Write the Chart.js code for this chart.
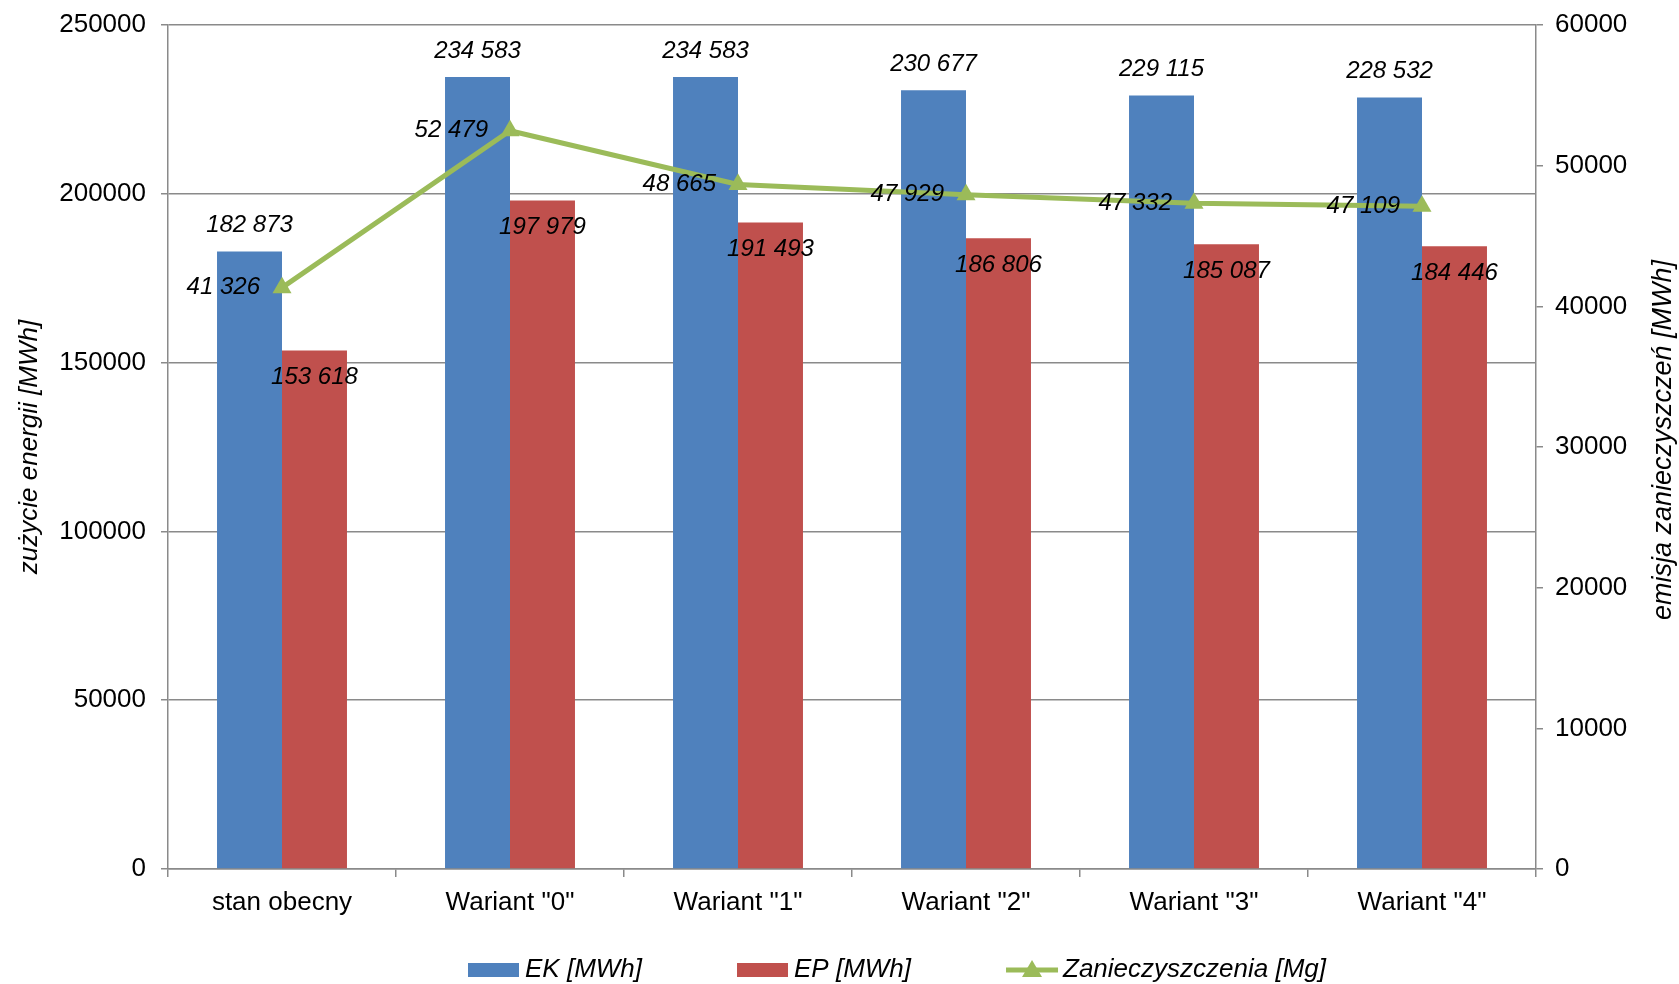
<!DOCTYPE html>
<html>
<head>
<meta charset="utf-8">
<script src="https://cdn.jsdelivr.net/npm/chart.js@4/dist/chart.umd.min.js"></script>
<style>
  html, body { margin: 0; padding: 0; background: #fff; }
</style>
</head>
<body>
<canvas id="energyChart" width="1679" height="984"></canvas>
<script>
// Data for the chart
const categories = ['stan obecny', 'Wariant "0"', 'Wariant "1"', 'Wariant "2"', 'Wariant "3"', 'Wariant "4"'];
const ekValues = [182873, 234583, 234583, 230677, 229115, 228532];
const epValues = [153618, 197979, 191493, 186806, 185087, 184446];
const emissionValues = [41326, 52479, 48665, 47929, 47332, 47109];

const FONT = '"Liberation Sans", Arial, sans-serif';
const GRID = '#8a8a8a';

// "182873" -> "182 873"
function fmt(v) {
    return String(v).replace(/\B(?=(\d{3})+(?!\d))/g, ' ');
}

// value labels next to bars and line points
const valueLabels = {
    id: 'valueLabels',
    afterDatasetsDraw(chart) {
        const ctx = chart.ctx;
        ctx.save();
        ctx.font = 'italic 24px ' + FONT;
        ctx.fillStyle = '#000';
        ctx.textBaseline = 'middle';
        chart.data.datasets.forEach((ds, di) => {
            const meta = chart.getDatasetMeta(di);
            meta.data.forEach((el, i) => {
                const txt = fmt(ds.data[i]);
                if (ds.labelPos === 'left') {
                    ctx.textAlign = 'right';
                    ctx.fillText(txt, el.x - 22, el.y);
                } else if (ds.labelPos === 'above') {
                    ctx.textAlign = 'center';
                    ctx.fillText(txt, el.x, el.y - 26);
                } else {
                    ctx.textAlign = 'center';
                    ctx.fillText(txt, el.x, el.y + 27);
                }
            });
        });
        ctx.restore();
    }
};

// right axis title (reads bottom-to-top like the left one) and the legend
const extras = {
    id: 'extras',
    afterDraw(chart) {
        const ctx = chart.ctx;
        ctx.save();
        ctx.fillStyle = '#000';
        ctx.font = 'italic 27px ' + FONT;
        ctx.textAlign = 'center';
        ctx.textBaseline = 'middle';
        ctx.translate(1663, 440);
        ctx.rotate(-Math.PI / 2);
        ctx.fillText('emisja zanieczyszczeń [MWh]', 0, 0);
        ctx.restore();

        // legend
        ctx.save();
        ctx.font = 'italic 26px ' + FONT;
        ctx.textBaseline = 'middle';
        ctx.textAlign = 'left';
        const y = 970;
        let x = 468;
        chart.data.datasets.forEach(ds => {
            if (ds.type === 'line') {
                ctx.strokeStyle = ds.borderColor;
                ctx.lineWidth = 5;
                ctx.beginPath();
                ctx.moveTo(x, y);
                ctx.lineTo(x + 52, y);
                ctx.stroke();
                ctx.fillStyle = ds.borderColor;
                ctx.beginPath();
                ctx.moveTo(x + 26, y - 10);
                ctx.lineTo(x + 36, y + 7);
                ctx.lineTo(x + 16, y + 7);
                ctx.closePath();
                ctx.fill();
            } else {
                ctx.fillStyle = ds.backgroundColor;
                ctx.fillRect(x, y - 7, 51, 14);
            }
            x += 57;
            ctx.fillStyle = '#000';
            ctx.fillText(ds.label, x, y);
            x += ctx.measureText(ds.label).width + 95;
        });
        ctx.restore();
    }
};

const data = {
    labels: categories,
    datasets: [
        {
            type: 'bar',
            label: 'EK [MWh]',
            data: ekValues,
            yAxisID: 'y',
            backgroundColor: '#4F81BD',
            order: 1,
            labelPos: 'above'
        },
        {
            type: 'bar',
            label: 'EP [MWh]',
            data: epValues,
            yAxisID: 'y',
            backgroundColor: '#C0504D',
            order: 1,
            labelPos: 'inside'
        },
        {
            type: 'line',
            label: 'Zanieczyszczenia [Mg]',
            data: emissionValues,
            yAxisID: 'y1',
            borderColor: '#9BBB59',
            backgroundColor: '#9BBB59',
            borderWidth: 5,
            pointStyle: 'triangle',
            pointRadius: 11,
            pointBorderWidth: 0,
            pointBackgroundColor: '#9BBB59',
            tension: 0,
            order: 0,
            labelPos: 'left'
        }
    ]
};

const plain = v => String(v);

const config = {
    type: 'bar',
    data: data,
    options: {
        responsive: false,
        animation: false,
        devicePixelRatio: 1,
        datasets: { bar: { categoryPercentage: 0.57, barPercentage: 1 } },
        layout: { padding: { top: 25, right: 0, bottom: 55, left: 0 } },
        plugins: { legend: { display: false }, tooltip: { enabled: false } },
        scales: {
            x: {
                offset: true,
                grid: { offset: true, drawOnChartArea: false, color: GRID, lineWidth: 1.5, tickLength: 8 },
                border: { color: GRID, width: 1.5 },
                ticks: { color: '#000', font: { size: 26, family: FONT }, padding: 10, maxRotation: 0 },
                afterFit(s) { s.height = 60; }
            },
            y: {
                position: 'left',
                min: 0, max: 250000,
                ticks: { stepSize: 50000, color: '#000', font: { size: 26, family: FONT }, padding: 15, callback: plain },
                grid: { color: GRID, lineWidth: 1.5, tickLength: 7 },
                border: { color: GRID, width: 1.5 },
                title: {
                    display: true, text: 'zużycie energii [MWh]', color: '#000',
                    font: { size: 26, family: FONT, style: 'italic' }, padding: { top: 14, bottom: 0 }
                },
                afterFit(s) { s.width = 168; s.paddingTop = 10; s.paddingBottom = 10; }
            },
            y1: {
                position: 'right',
                min: 0, max: 60000,
                ticks: { stepSize: 10000, color: '#000', font: { size: 26, family: FONT }, padding: 12, callback: plain },
                grid: { drawOnChartArea: false, color: GRID, lineWidth: 1.5, tickLength: 7 },
                border: { color: GRID, width: 1.5 },
                afterFit(s) { s.width = 143; s.paddingTop = 10; s.paddingBottom = 10; }
            }
        }
    },
    plugins: [valueLabels, extras]
};

// Render the chart
const ctx = document.getElementById('energyChart').getContext('2d');
const energyChart = new Chart(ctx, config);
</script>
</body>
</html>
